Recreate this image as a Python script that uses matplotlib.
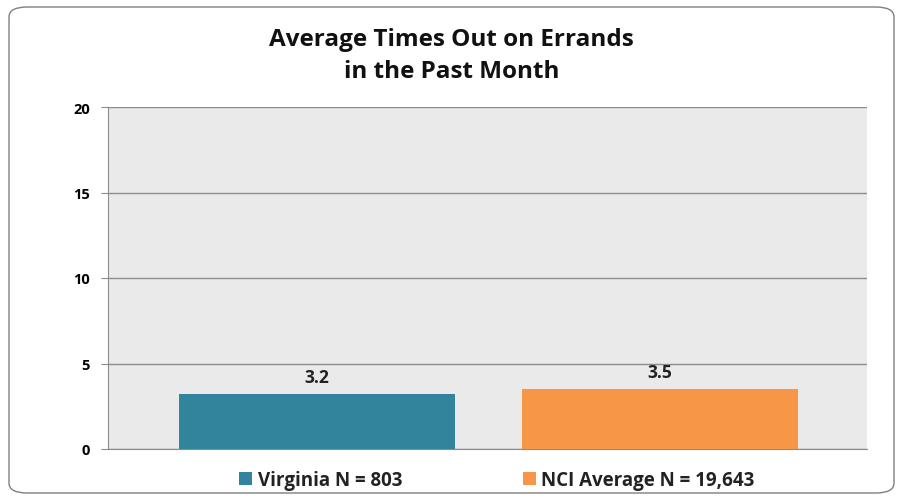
import matplotlib
matplotlib.use("Agg")
import matplotlib.pyplot as plt
from matplotlib.patches import FancyBboxPatch

# data
groups = ["Virginia N = 803", "NCI Average N = 19,643"]
values = [3.2, 3.5]
colors = ["#31849B", "#F79646"]
yticks = [0, 5, 10, 15, 20]

plt.rcParams['font.family'] = ['Open Sans', 'DejaVu Sans']

W, H = 903, 502
fig = plt.figure(figsize=(W / 100, H / 100), dpi=100)
fig.patch.set_facecolor("white")

# rounded frame round the chart
frame = FancyBboxPatch((9 / W, 8 / H), 885 / W, 486 / H,
                       boxstyle="round,pad=0,rounding_size=0.02",
                       transform=fig.transFigure, facecolor="none",
                       edgecolor="#7f7f7f", linewidth=1.0, zorder=0)
fig.patches.append(frame)

ax = fig.add_axes([108 / W, 1 - 450 / H, (867 - 108) / W, (450 - 108) / H])
ax.set_facecolor("#EAEAEA")

x = list(range(len(values)))
bars = ax.bar(x, values, width=0.805, color=colors, zorder=3)
for xi, v in zip(x, values):
    ax.text(xi, v + 0.5, f"{v:.1f}", ha="center", va="bottom",
            fontsize=12.5, fontweight="bold", color="#222222", zorder=4)

ax.set_xlim(-0.609, 1.603)
ax.set_ylim(0, 20)
ax.set_yticks(yticks)
ax.set_yticklabels([str(t) for t in yticks], fontsize=10.5, fontweight="bold")
ax.set_xticks([])
ax.yaxis.grid(True, color="#8c8c8c", linewidth=1.0, zorder=1)
ax.set_axisbelow(True)
ax.tick_params(axis="y", length=5, color="#8c8c8c", pad=8)
for side in ["top", "right"]:
    ax.spines[side].set_visible(False)
for side in ["left", "bottom"]:
    ax.spines[side].set_color("#8c8c8c")

fig.text(0.5, 1 - 40 / H, "Average Times Out on Errands", ha="center",
         va="center", fontsize=17.5, fontweight="bold", color="#111111")
fig.text(0.5, 1 - 72 / H, "in the Past Month", ha="center",
         va="center", fontsize=17.5, fontweight="bold", color="#111111")

leg = fig.legend(bars, groups, loc="center", bbox_to_anchor=(497 / W, 1 - 481 / H),
                 ncol=2, frameon=False, fontsize=13.5, handlelength=0.7,
                 handleheight=0.7, handletextpad=0.3, columnspacing=6.4)
for t in leg.get_texts():
    t.set_fontweight("bold")
    t.set_color("#222222")

fig.savefig("out.png", dpi=100)
